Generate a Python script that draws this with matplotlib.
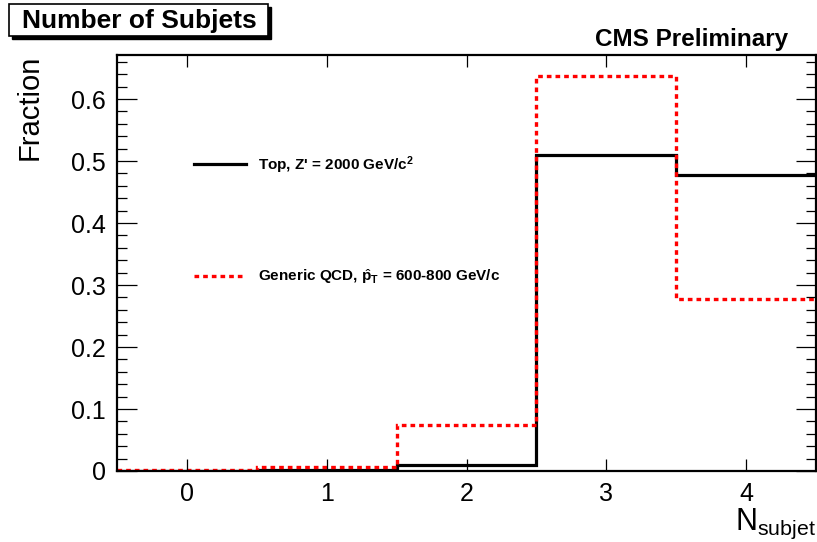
import numpy as np
import matplotlib
matplotlib.use("Agg")
from matplotlib import pyplot as plt
from matplotlib.patches import Rectangle
from matplotlib.lines import Line2D

# bin edges and fractions per N_subjet bin
edges = np.array([-0.5, 0.5, 1.5, 2.5, 3.5, 4.5])
top_frac = [0.0005, 0.002, 0.009, 0.510, 0.478]
qcd_frac = [0.001, 0.007, 0.075, 0.637, 0.278]

top_label = r"Top, Z' = 2000 GeV/c$^{\mathbf{2}}$"
qcd_label = r"Generic QCD, $\hat{\mathbf{p}}_{\mathbf{T}}$ = 600-800 GeV/c"

plt.rcParams['font.family'] = ['Liberation Sans', 'DejaVu Sans']
plt.rcParams['mathtext.fontset'] = 'custom'
plt.rcParams['mathtext.rm'] = 'Liberation Sans'
plt.rcParams['mathtext.it'] = 'Liberation Sans:italic'
plt.rcParams['mathtext.bf'] = 'Liberation Sans:bold'

fig = plt.figure(figsize=(8.17, 5.42), dpi=100)
ax = fig.add_axes([0.1432, 0.131, 0.8556, 0.7675])

ax.stairs(top_frac, edges, color='black', lw=2.3, baseline=None)
ax.stairs(qcd_frac, edges, color='red', lw=2.4, linestyle=(0, (1.4, 1.2)), baseline=None)

ax.set_xlim(-0.5, 4.5)
ax.set_ylim(0, 0.671)
ax.set_xticks(range(5))
ax.set_yticks([0, 0.1, 0.2, 0.3, 0.4, 0.5, 0.6])
ax.set_yticklabels(['0', '0.1', '0.2', '0.3', '0.4', '0.5', '0.6'])
ax.set_yticks(np.arange(0, 0.67, 0.02), minor=True)

for s in ax.spines.values():
    s.set_linewidth(1.6)
ax.tick_params(axis='both', which='both', direction='in', top=True, right=True,
               labelsize=18, width=0.9)
ax.tick_params(axis='x', which='major', length=8.6, pad=8)
ax.tick_params(axis='y', which='major', length=14.4, pad=8)
ax.tick_params(axis='y', which='minor', length=7.2)

ax.set_ylabel('Fraction', fontsize=21, loc='top')
ax.yaxis.set_label_coords(-0.105, 1.0)
ax.set_xlabel(r'N$_{\mathrm{subjet}}$', fontsize=22, loc='right')
ax.xaxis.set_label_coords(1.0, -0.085)

handles = [Line2D([], [], color='black', lw=2.3),
           Line2D([], [], color='red', lw=2.4, linestyle=(0, (1.4, 1.2)))]
leg = ax.legend(handles, [top_label, qcd_label], loc='upper left',
                bbox_to_anchor=(0.09, 0.795), frameon=False, handlelength=3.4,
                handletextpad=0.8, labelspacing=6.0,
                prop={'weight': 'bold', 'size': 11})

# title box with shadow
fig.patches.append(Rectangle((12 / 817, 1 - 39 / 542), 259 / 817, 32 / 542,
                             transform=fig.transFigure, fc='black', ec='black'))
fig.patches.append(Rectangle((9 / 817, 1 - 36 / 542), 259 / 817, 32 / 542,
                             transform=fig.transFigure, fc='white', ec='black', lw=1.2))
fig.text(139 / 817, 1 - 21 / 542, 'Number of Subjets', ha='center', va='center',
         fontsize=19, weight='bold')
fig.text(788 / 817, 1 - 46 / 542, 'CMS Preliminary', ha='right', va='baseline',
         fontsize=17.5, weight='bold')

plt.savefig('out.png', dpi=100)
